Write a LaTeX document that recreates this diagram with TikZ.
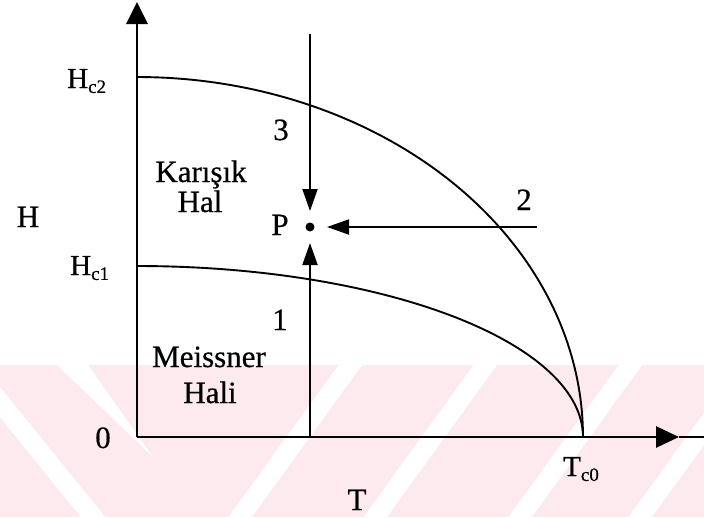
\documentclass[tikz,border=0pt]{standalone}
\usepackage{fontspec}
\setmainfont{Liberation Serif}[FakeBold=0.5]
\usetikzlibrary{arrows.meta}
\definecolor{wmpink}{RGB}{252,234,239}
\newcommand{\subtxt}[1]{\raisebox{-0.17em}{\fontsize{19}{19}\selectfont #1}}
\begin{document}
\begin{tikzpicture}[x=1pt,y=-1pt,
  lab/.style={font=\fontsize{31}{33}\selectfont, inner sep=0pt, anchor=base},
  hlab/.style={font=\fontsize{29}{31}\selectfont, inner sep=0pt, anchor=base west},
  axisline/.style={line width=2.8pt},
  boundary/.style={line width=1.9pt},
  route/.style={line width=1.9pt, -{Triangle[width=15pt,length=22pt]}},
  gap/.style={white, line width=19pt}
]
\useasboundingbox (0,0) rectangle (704,517);
% watermark band
\fill[wmpink] (0,365) rectangle (704,517);
\begin{scope}
  \clip (0,365) rectangle (704,517);
  \draw[gap] (-30,365) -- (110,538);
  \fill[white] (57,365) -- (88,365) -- (153,457) -- cycle;
  \draw[gap] (225,538) -- (367,342);
  \draw[gap] (360,538) -- (502,342);
  \draw[gap] (505,538) -- (647,342);
  \draw[gap] (625,538) -- (767,342);
\end{scope}
% coordinates
\coordinate (O) at (137,437);
\coordinate (ytip) at (137,2);
\coordinate (xtip) at (679,437);
\coordinate (xend) at (704,437);
\coordinate (Tc) at (583,437);
\coordinate (P) at (310,227);
\coordinate (s3) at (310,34);
\coordinate (e3) at (310,211);
\coordinate (s1) at (310,437);
\coordinate (e1) at (310,243);
\coordinate (s2) at (537,227);
\coordinate (e2) at (327,227);
% axes
\draw[axisline, -{Triangle[width=21pt,length=22pt]}] (O) -- (ytip);
\draw[axisline, -{Triangle[width=21pt,length=23pt]}] (O) -- (xtip);
\draw[line width=1.6pt] (xtip) -- (xend);
% boundaries
\draw[boundary] plot[domain=0:90, samples=90] ({137+446*cos(\x)},{437-360*sin(\x)});
\draw[boundary] plot[domain=0:90, samples=90] ({137+446*cos(\x)},{437-171*sin(\x)});
% routes
\draw[route] (s3) -- (e3);
\draw[route] (s1) -- (e1);
\draw[route] (s2) -- (e2);
\fill (P) circle (4.5);
% labels
\node[lab] (H) at (28,227) {H};
\node[hlab] (Hc2) at (67,88) {H\subtxt{c2}};
\node[hlab] (Hc1) at (70,275) {H\subtxt{c1}};
\node[lab] (zero) at (103,448) {0};
\node[lab] (n3) at (281,140) {3};
\node[lab] (kar) at (201,182) {Karışık};
\node[lab] (hal) at (200,212) {Hal};
\node[lab] (Plab) at (280,235) {P};
\node[lab] (n2) at (524,210) {2};
\node[lab] (n1) at (280,330) {1};
\node[lab] (mei) at (209,367) {Meissner};
\node[lab] (hali) at (210,403) {Hali};
\node[lab] (T) at (357,510) {T};
\node[hlab] (Tc0) at (563,476) {T\subtxt{c0}};
\end{tikzpicture}
\end{document}
